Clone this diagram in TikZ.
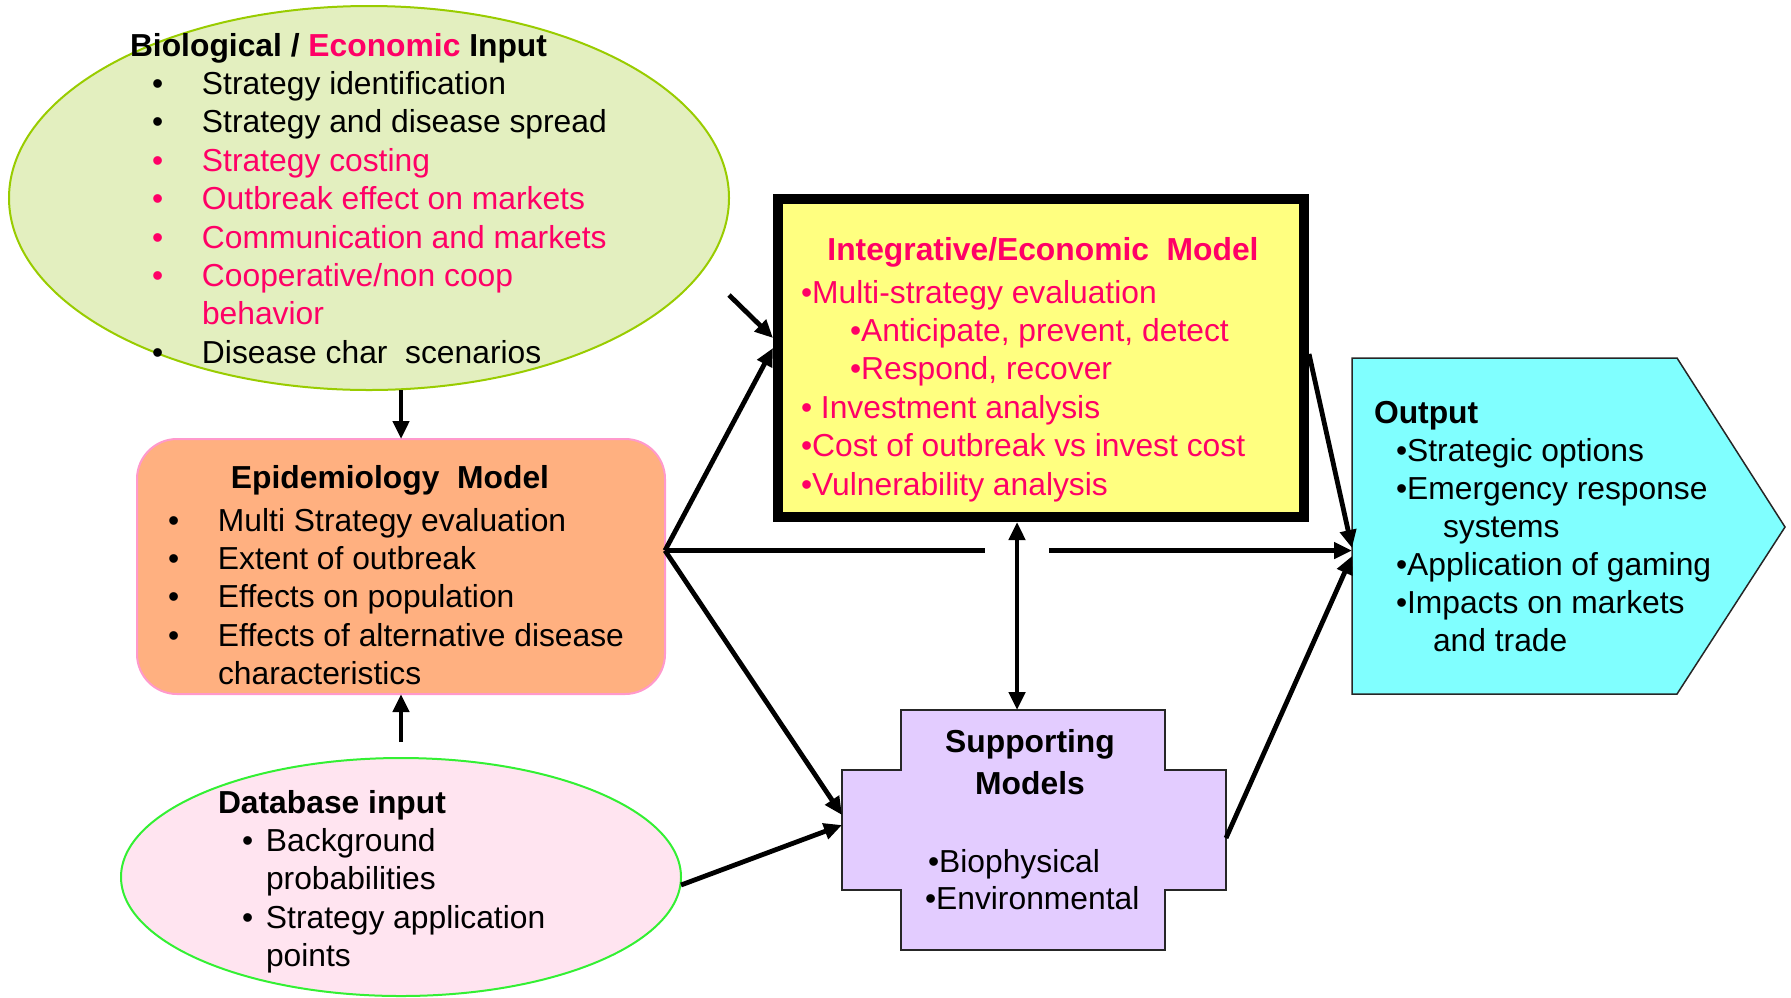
\documentclass[tikz,border=0pt]{standalone}
\usepackage{fontspec}
\setmainfont{Liberation Sans}
\usetikzlibrary{arrows.meta,shapes.geometric,calc}

\definecolor{bioFill}{HTML}{E3EFBF}
\definecolor{bioLine}{HTML}{99CC00}
\definecolor{epiFill}{HTML}{FFB080}
\definecolor{epiLine}{HTML}{FF99CC}
\definecolor{dbFill}{HTML}{FFE4F0}
\definecolor{dbLine}{HTML}{33F033}
\definecolor{intFill}{HTML}{FFFF80}
\definecolor{supFill}{HTML}{E3CCFF}
\definecolor{outFill}{HTML}{80FFFF}
\definecolor{econ}{HTML}{FF0066}

% bullet with hanging text
\newcommand{\bioItem}[1]{\hspace*{11pt}\makebox[25pt][l]{•}#1}
\newcommand{\epiItem}[1]{\makebox[25pt][l]{•}#1}
% multi-line block whose baseline is the first line
\newenvironment{textlines}{\begin{tabular}[t]{@{}l@{}}}{\end{tabular}}

\begin{document}
\begin{tikzpicture}[x=0.5pt,y=-0.5pt,
  every node/.style={inner sep=0pt, outer sep=0pt},
  body/.style={font=\fontsize{15.9pt}{19.2pt}\selectfont, anchor=base west},
  title/.style={font=\fontsize{15.9pt}{19.2pt}\selectfont\bfseries},
  wire/.style={line width=2.4pt},
  link/.style={wire, -{Triangle[length=9pt,width=8pt]}},
  dlink/.style={wire, {Triangle[length=9pt,width=8pt]}-{Triangle[length=9pt,width=8pt]}},
]
\useasboundingbox (0,0) rectangle (1791,997);

% ---- shapes ----
\node[ellipse, draw=bioLine, fill=bioFill, line width=1pt,
      minimum width=360pt, minimum height=192pt] (bio) at (369,198) {};
\node[rectangle, rounded corners=20pt, draw=epiLine, fill=epiFill, line width=1pt,
      minimum width=264pt, minimum height=127.5pt] (epi) at (401,566.5) {};
\node[ellipse, draw=dbLine, fill=dbFill, line width=1pt,
      minimum width=280pt, minimum height=119pt] (db) at (401,877) {};
\node[draw=black, fill=intFill, line width=5pt, outer sep=2.5pt,
      minimum width=263pt, minimum height=159pt] (yel) at (1041,358) {};

% supporting models: cross-shaped block
\draw[fill=supFill, draw=black!85, line width=0.75pt]
  (901,710) -- (1165,710) -- (1165,770) -- (1226,770) -- (1226,890) -- (1165,890)
  -- (1165,950) -- (901,950) -- (901,890) -- (842,890) -- (842,770) -- (901,770) -- cycle;
\node[minimum width=192pt, minimum height=120pt] (sup) at (1034,830) {};

% output: pentagon arrow block
\draw[fill=outFill, draw=black!85, line width=0.75pt]
  (1352,358) -- (1677,358) -- (1785,527) -- (1677,694) -- (1352,694) -- cycle;
\node[minimum width=216.5pt, minimum height=168pt] (out) at (1568.5,526) {};

% ---- texts ----
\node[body] (bioText) at (130,56) {\begin{textlines}
  \textbf{Biological / \textcolor{econ}{Economic} Input}\\
  \bioItem{Strategy identification}\\
  \bioItem{Strategy and disease spread}\\
  \textcolor{econ}{\bioItem{Strategy costing}}\\
  \textcolor{econ}{\bioItem{Outbreak effect on markets}}\\
  \textcolor{econ}{\bioItem{Communication and markets}}\\
  \textcolor{econ}{\bioItem{Cooperative/non coop}}\\
  \textcolor{econ}{\hspace*{36pt}behavior}\\
  \bioItem{Disease char\ \ scenarios}
  \end{textlines}};

\node[title, anchor=base] (epiHead) at (390,488) {Epidemiology\ \ Model};
\node[body] (epiText) at (168,531) {\begin{textlines}
  \epiItem{Multi Strategy evaluation}\\
  \epiItem{Extent of outbreak}\\
  \epiItem{Effects on population}\\
  \epiItem{Effects of alternative disease}\\
  \hspace*{25pt}characteristics
  \end{textlines}};

\node[title, anchor=base, text=econ] (yelHead) at (1043,260) {Integrative/Economic\ \ Model};
\node[body, text=econ] (yelText) at (801,303) {\begin{textlines}
  •Multi-strategy evaluation\\
  \hspace*{24.5pt}•Anticipate, prevent, detect\\
  \hspace*{24.5pt}•Respond, recover\\
  • Investment analysis\\
  •Cost of outbreak vs invest cost\\
  •Vulnerability analysis
  \end{textlines}};

\node[title, anchor=base] (supHead) at (1030,752)
  {\begin{tabular}[t]{@{}c@{}}Supporting\\[1.8pt]Models\end{tabular}};
\node[body] (supText) at (928,872) {\begin{textlines}
  •Biophysical\\[-0.5pt]
  \hspace*{-1.5pt}•Environmental
  \end{textlines}};

\node[body, font=\fontsize{15.9pt}{19pt}\selectfont] (outText) at (1374,423) {\begin{textlines}
  \textbf{Output}\\
  \hspace*{11pt}•Strategic options\\
  \hspace*{11pt}•Emergency response\\
  \hspace*{34.5pt}systems\\
  \hspace*{11pt}•Application of gaming\\
  \hspace*{11pt}•Impacts on markets\\
  \hspace*{29.5pt}and trade
  \end{textlines}};

\node[body] (dbText) at (218,813) {\begin{textlines}
  \textbf{Database input}\\
  \hspace*{12pt}\makebox[12pt][l]{•}Background\\
  \hspace*{24pt}probabilities\\
  \hspace*{12pt}\makebox[12pt][l]{•}Strategy application\\
  \hspace*{24pt}points
  \end{textlines}};

% ---- connectors ----
\coordinate (hub) at ($(epi.east)+(0,-16)$);
\coordinate (vx) at ($(yel.south)+(-24,0)$);

\draw[link] (bio.south -| epi.north) -- (epi.north);
\draw[link] ($(db.north)+(0,-16)$) -- (epi.south);
\draw[link] ($(bio.east)+(0,97)$) -- ($(yel.west)+(0,-20)$);
\draw[link] (hub) -- ($(yel.west)+(0,-10)$);
\draw[wire] (hub) -- ($(hub -| vx)+(-32,0)$);
\draw[link] ($(hub -| vx)+(32,0)$) -- (hub -| out.west);
\draw[link] (hub) -- ($(sup.west)+(0,-15)$);
\draw[link] ($(db.east)+(0,8)$) -- ($(sup.west)+(0,-5)$);
\draw[dlink] (vx) -- (vx |- sup.north);
\draw[link] ($(yel.east)+(0,-4)$) -- ($(out.west)+(0,22)$);
\draw[link] ($(sup.east)+(0,8)$) -- ($(out.west)+(0,30)$);
\end{tikzpicture}
\end{document}
